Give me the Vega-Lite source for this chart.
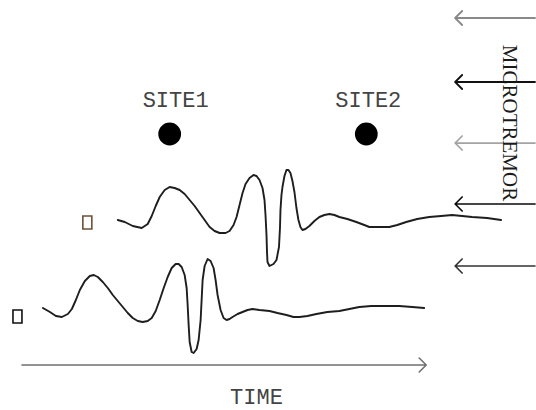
{
  "$schema": "https://vega.github.io/schema/vega-lite/v6.json",
  "width": 536,
  "height": 410,
  "autosize": {"type": "fit", "contains": "padding"},
  "padding": 0,
  "background": "white",
  "config": {"view": {"stroke": null}},
  "datasets": {
    "lines": [
      {"s":"top","k":"wave","x":118,"y":220},{"s":"top","k":"wave","x":125,"y":222},{"s":"top","k":"wave","x":133,"y":226},{"s":"top","k":"wave","x":142,"y":228},{"s":"top","k":"wave","x":148,"y":224},{"s":"top","k":"wave","x":152,"y":216},{"s":"top","k":"wave","x":156,"y":206},{"s":"top","k":"wave","x":160,"y":197},{"s":"top","k":"wave","x":165,"y":190},{"s":"top","k":"wave","x":170,"y":187},{"s":"top","k":"wave","x":175,"y":188},{"s":"top","k":"wave","x":180,"y":190},{"s":"top","k":"wave","x":185,"y":194},{"s":"top","k":"wave","x":190,"y":200},{"s":"top","k":"wave","x":195,"y":206},{"s":"top","k":"wave","x":200,"y":213},{"s":"top","k":"wave","x":205,"y":220},{"s":"top","k":"wave","x":210,"y":227},{"s":"top","k":"wave","x":215,"y":231},{"s":"top","k":"wave","x":220,"y":233},{"s":"top","k":"wave","x":226,"y":233},{"s":"top","k":"wave","x":230,"y":231},{"s":"top","k":"wave","x":234,"y":225},{"s":"top","k":"wave","x":237,"y":217},{"s":"top","k":"wave","x":240,"y":205},{"s":"top","k":"wave","x":243,"y":193},{"s":"top","k":"wave","x":246,"y":184},{"s":"top","k":"wave","x":250,"y":178},{"s":"top","k":"wave","x":254,"y":175},{"s":"top","k":"wave","x":257,"y":176},{"s":"top","k":"wave","x":260,"y":180},{"s":"top","k":"wave","x":263,"y":188},{"s":"top","k":"wave","x":265,"y":200},{"s":"top","k":"wave","x":266,"y":215},{"s":"top","k":"wave","x":267,"y":235},{"s":"top","k":"wave","x":267.5,"y":252},{"s":"top","k":"wave","x":268,"y":262},{"s":"top","k":"wave","x":270,"y":266},{"s":"top","k":"wave","x":274,"y":264},{"s":"top","k":"wave","x":277,"y":260},{"s":"top","k":"wave","x":279.5,"y":247},{"s":"top","k":"wave","x":280.5,"y":228},{"s":"top","k":"wave","x":281,"y":210},{"s":"top","k":"wave","x":282,"y":195},{"s":"top","k":"wave","x":283,"y":187},{"s":"top","k":"wave","x":285,"y":176},{"s":"top","k":"wave","x":287,"y":170},{"s":"top","k":"wave","x":289,"y":170},{"s":"top","k":"wave","x":291,"y":173},{"s":"top","k":"wave","x":293,"y":181},{"s":"top","k":"wave","x":295,"y":192},{"s":"top","k":"wave","x":297,"y":208},{"s":"top","k":"wave","x":299,"y":220},{"s":"top","k":"wave","x":301,"y":227},{"s":"top","k":"wave","x":303,"y":230},{"s":"top","k":"wave","x":306,"y":229},{"s":"top","k":"wave","x":310,"y":226},{"s":"top","k":"wave","x":315,"y":221},{"s":"top","k":"wave","x":320,"y":217},{"s":"top","k":"wave","x":325,"y":215},{"s":"top","k":"wave","x":330,"y":214},{"s":"top","k":"wave","x":335,"y":215},{"s":"top","k":"wave","x":340,"y":217},{"s":"top","k":"wave","x":348,"y":219},{"s":"top","k":"wave","x":357,"y":222},{"s":"top","k":"wave","x":365,"y":225},{"s":"top","k":"wave","x":370,"y":227},{"s":"top","k":"wave","x":380,"y":227},{"s":"top","k":"wave","x":390,"y":227},{"s":"top","k":"wave","x":398,"y":225},{"s":"top","k":"wave","x":407,"y":222},{"s":"top","k":"wave","x":418,"y":219},{"s":"top","k":"wave","x":430,"y":217},{"s":"top","k":"wave","x":442,"y":216},{"s":"top","k":"wave","x":453,"y":215},{"s":"top","k":"wave","x":463,"y":216},{"s":"top","k":"wave","x":473,"y":217},{"s":"top","k":"wave","x":488,"y":218},{"s":"top","k":"wave","x":502,"y":220},
      {"s":"bot","k":"wave","x":43,"y":308},{"s":"bot","k":"wave","x":50,"y":312},{"s":"bot","k":"wave","x":56,"y":316},{"s":"bot","k":"wave","x":62,"y":317},{"s":"bot","k":"wave","x":68,"y":314},{"s":"bot","k":"wave","x":72,"y":309},{"s":"bot","k":"wave","x":76,"y":300},{"s":"bot","k":"wave","x":80,"y":290},{"s":"bot","k":"wave","x":85,"y":281},{"s":"bot","k":"wave","x":90,"y":276},{"s":"bot","k":"wave","x":94,"y":275},{"s":"bot","k":"wave","x":98,"y":277},{"s":"bot","k":"wave","x":103,"y":282},{"s":"bot","k":"wave","x":108,"y":288},{"s":"bot","k":"wave","x":113,"y":295},{"s":"bot","k":"wave","x":118,"y":301},{"s":"bot","k":"wave","x":123,"y":307},{"s":"bot","k":"wave","x":128,"y":313},{"s":"bot","k":"wave","x":133,"y":318},{"s":"bot","k":"wave","x":138,"y":321},{"s":"bot","k":"wave","x":143,"y":322},{"s":"bot","k":"wave","x":148,"y":321},{"s":"bot","k":"wave","x":152,"y":318},{"s":"bot","k":"wave","x":156,"y":311},{"s":"bot","k":"wave","x":160,"y":300},{"s":"bot","k":"wave","x":164,"y":288},{"s":"bot","k":"wave","x":168,"y":277},{"s":"bot","k":"wave","x":172,"y":268},{"s":"bot","k":"wave","x":176,"y":264},{"s":"bot","k":"wave","x":179,"y":264},{"s":"bot","k":"wave","x":182,"y":267},{"s":"bot","k":"wave","x":185,"y":275},{"s":"bot","k":"wave","x":187,"y":288},{"s":"bot","k":"wave","x":188,"y":305},{"s":"bot","k":"wave","x":189,"y":325},{"s":"bot","k":"wave","x":190,"y":342},{"s":"bot","k":"wave","x":192,"y":352},{"s":"bot","k":"wave","x":194,"y":353},{"s":"bot","k":"wave","x":197,"y":349},{"s":"bot","k":"wave","x":199,"y":340},{"s":"bot","k":"wave","x":201,"y":320},{"s":"bot","k":"wave","x":202,"y":300},{"s":"bot","k":"wave","x":203,"y":280},{"s":"bot","k":"wave","x":205,"y":266},{"s":"bot","k":"wave","x":208,"y":259},{"s":"bot","k":"wave","x":211,"y":261},{"s":"bot","k":"wave","x":214,"y":268},{"s":"bot","k":"wave","x":216,"y":280},{"s":"bot","k":"wave","x":218,"y":295},{"s":"bot","k":"wave","x":221,"y":310},{"s":"bot","k":"wave","x":224,"y":318},{"s":"bot","k":"wave","x":227,"y":320},{"s":"bot","k":"wave","x":230,"y":319},{"s":"bot","k":"wave","x":233,"y":317},{"s":"bot","k":"wave","x":238,"y":314},{"s":"bot","k":"wave","x":243,"y":312},{"s":"bot","k":"wave","x":248,"y":310},{"s":"bot","k":"wave","x":253,"y":309},{"s":"bot","k":"wave","x":260,"y":310},{"s":"bot","k":"wave","x":270,"y":311},{"s":"bot","k":"wave","x":278,"y":313},{"s":"bot","k":"wave","x":287,"y":315},{"s":"bot","k":"wave","x":294,"y":317},{"s":"bot","k":"wave","x":300,"y":317},{"s":"bot","k":"wave","x":308,"y":316},{"s":"bot","k":"wave","x":317,"y":314},{"s":"bot","k":"wave","x":328,"y":312},{"s":"bot","k":"wave","x":340,"y":311},{"s":"bot","k":"wave","x":350,"y":309},{"s":"bot","k":"wave","x":360,"y":307},{"s":"bot","k":"wave","x":372,"y":306},{"s":"bot","k":"wave","x":387,"y":306},{"s":"bot","k":"wave","x":400,"y":306},{"s":"bot","k":"wave","x":413,"y":307},{"s":"bot","k":"wave","x":425,"y":308},
      {"s":"a1","k":"gray","x":463,"y":11},{"s":"a1","k":"gray","x":456,"y":18},{"s":"a1","k":"gray","x":463,"y":25},{"s":"a1","k":"gray","x":456,"y":18},{"s":"a1","k":"gray","x":536,"y":18},
      {"s":"a2","k":"black","x":463,"y":75},{"s":"a2","k":"black","x":456,"y":82},{"s":"a2","k":"black","x":463,"y":89},{"s":"a2","k":"black","x":456,"y":82},{"s":"a2","k":"black","x":536,"y":82},
      {"s":"a3","k":"light","x":463,"y":136},{"s":"a3","k":"light","x":456,"y":143},{"s":"a3","k":"light","x":463,"y":150},{"s":"a3","k":"light","x":456,"y":143},{"s":"a3","k":"light","x":536,"y":143},
      {"s":"a4","k":"bold","x":463,"y":197},{"s":"a4","k":"bold","x":456,"y":204},{"s":"a4","k":"bold","x":463,"y":211},{"s":"a4","k":"bold","x":456,"y":204},{"s":"a4","k":"bold","x":536,"y":204},
      {"s":"a5","k":"dark","x":463,"y":259},{"s":"a5","k":"dark","x":456,"y":266},{"s":"a5","k":"dark","x":463,"y":273},{"s":"a5","k":"dark","x":456,"y":266},{"s":"a5","k":"dark","x":536,"y":266},
      {"s":"t","k":"time","x":22,"y":365},{"s":"t","k":"time","x":427,"y":365},{"s":"t","k":"time","x":420,"y":358},{"s":"t","k":"time","x":427,"y":365},{"s":"t","k":"time","x":420,"y":372}
    ],
    "boxes": [
      {"k":"tan","x":83,"x2":92,"y":216,"y2":229},
      {"k":"black","x":13,"x2":22,"y":310,"y2":323}
    ],
    "sites": [
      {"x":170,"y":134},
      {"x":367,"y":134}
    ],
    "labels": [
      {"t":"SITE1","x":176,"y":107},
      {"t":"SITE2","x":369,"y":107},
      {"t":"TIME","x":257,"y":404}
    ],
    "vlabel": [
      {"t":"MICROTREMOR","x":510,"y":123}
    ]
  },
  "layer": [
    {
      "data": {"name": "lines"},
      "mark": {"type": "line", "strokeCap": "round", "strokeJoin": "round"},
      "encoding": {
        "x": {"field": "x", "type": "quantitative", "scale": {"domain": [0, 536], "nice": false, "zero": false}, "axis": null},
        "y": {"field": "y", "type": "quantitative", "scale": {"domain": [0, 410], "nice": false, "zero": false, "reverse": true}, "axis": null},
        "detail": {"field": "s"},
        "order": {"value": null},
        "color": {"field": "k", "type": "nominal", "scale": {"domain": ["wave", "gray", "black", "light", "bold", "dark", "time"], "range": ["#1e1e1e", "#8a8a8a", "#111111", "#a3a3a3", "#0a0a0a", "#333333", "#707070"]}, "legend": null},
        "strokeWidth": {"field": "k", "type": "nominal", "scale": {"domain": ["wave", "gray", "black", "light", "bold", "dark", "time"], "range": [1.9, 1.6, 1.3, 1.1, 1.9, 1.3, 1.4]}, "legend": null}
      }
    },
    {
      "data": {"name": "boxes"},
      "mark": {"type": "rect", "fill": "white", "strokeWidth": 1.6},
      "encoding": {
        "x": {"field": "x", "type": "quantitative"},
        "x2": {"field": "x2"},
        "y": {"field": "y", "type": "quantitative"},
        "y2": {"field": "y2"},
        "stroke": {"field": "k", "type": "nominal", "scale": {"domain": ["tan", "black"], "range": ["#6e5038", "#111111"]}, "legend": null}
      }
    },
    {
      "data": {"name": "sites"},
      "mark": {"type": "point", "shape": "circle", "filled": true, "color": "#000000", "size": 520, "opacity": 1},
      "encoding": {
        "x": {"field": "x", "type": "quantitative"},
        "y": {"field": "y", "type": "quantitative"}
      }
    },
    {
      "data": {"name": "labels"},
      "mark": {"type": "text", "font": "Liberation Mono", "fontSize": 22, "color": "#444444", "align": "center", "baseline": "alphabetic"},
      "encoding": {
        "x": {"field": "x", "type": "quantitative"},
        "y": {"field": "y", "type": "quantitative"},
        "text": {"field": "t"}
      }
    },
    {
      "data": {"name": "vlabel"},
      "mark": {"type": "text", "font": "Liberation Serif", "fontSize": 21, "color": "#1a1a1a", "align": "center", "baseline": "middle", "angle": 90},
      "encoding": {
        "x": {"field": "x", "type": "quantitative"},
        "y": {"field": "y", "type": "quantitative"},
        "text": {"field": "t"}
      }
    }
  ]
}
